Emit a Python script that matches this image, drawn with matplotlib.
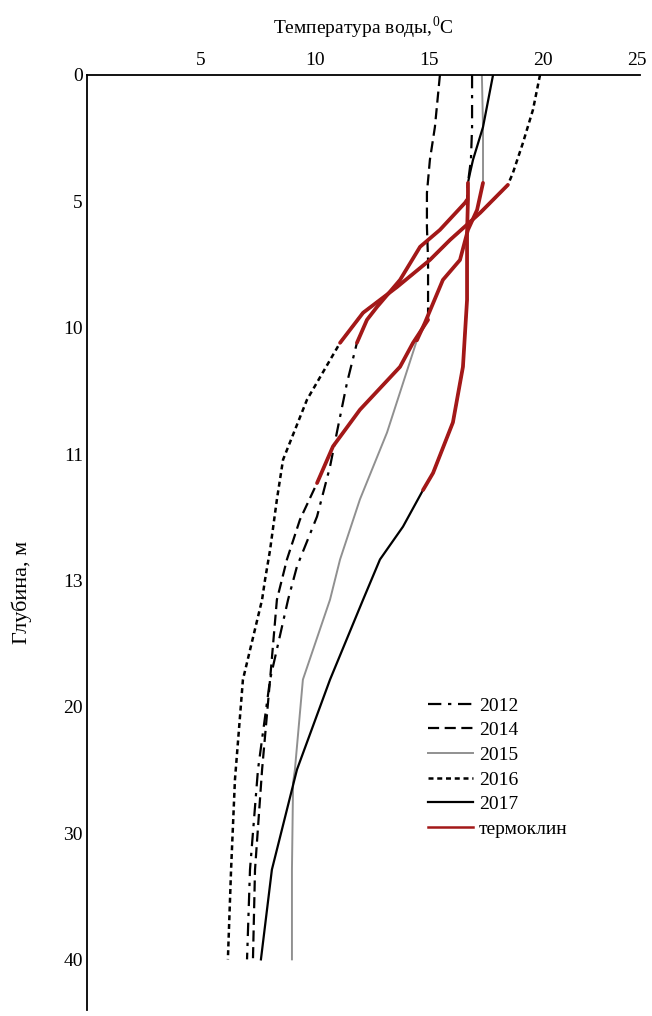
import numpy as np
import matplotlib.pyplot as plt
from matplotlib.lines import Line2D

plt.rcParams['font.family'] = ['Liberation Serif', 'DejaVu Serif']
plt.rcParams['mathtext.fontset'] = 'custom'
plt.rcParams['mathtext.rm'] = 'Liberation Serif'

# depth axis is drawn with equal spacing between these labels
depth_labels = [0, 5, 10, 11, 13, 20, 30, 40]
temp_labels = [5, 10, 15, 20, 25]

# profiles: temperature (C) vs depth (m)
t2012 = [16.89, 16.89, 16.84, 16.71, 16.67, 16.58, 15.48, 14.61, 13.73, 12.72, 12.28,
         11.84, 11.40, 10.96, 10.66, 10.09, 9.21, 8.82, 8.03, 7.50, 7.15, 7.02]
z2012 = [0, 2.06, 3.36, 4.27, 4.94, 5.06, 6.13, 6.80, 8.11, 9.18, 9.69,
         10.12, 10.44, 10.83, 11.20, 11.99, 12.78, 14.07, 18.5, 24.98, 32.9, 40]

t2014 = [15.48, 15.26, 15.04, 14.91, 14.91, 14.96, 14.96, 14.96, 14.30, 13.73, 11.97,
         10.79, 10.09, 9.34, 8.77, 8.33, 8.03, 7.68, 7.37, 7.28]
z2014 = [0, 2.06, 3.36, 4.67, 6.01, 7.32, 9.41, 9.69, 10.12, 10.31, 10.65,
         10.94, 11.46, 12.04, 12.67, 14.07, 18.5, 24.98, 32.9, 40]

t2015 = [17.32, 17.37, 17.37, 17.11, 16.71, 16.36, 15.61, 14.82, 14.47, 13.16, 11.97,
         11.10, 10.66, 9.47, 9.12, 9.04, 8.99, 8.99]
z2015 = [0, 2.06, 4.27, 5.34, 6.13, 7.32, 8.11, 9.81, 10.10, 10.83, 11.72,
         12.67, 14.07, 18.5, 24.98, 26.0, 32.9, 40]

t2016 = [19.87, 19.56, 19.12, 18.68, 18.46, 17.24, 15.92, 15.04, 13.60, 12.11, 11.10,
         9.65, 8.60, 8.33, 8.03, 7.81, 7.68, 6.84, 6.49, 6.32, 6.18]
z2016 = [0, 1.38, 2.69, 3.88, 4.35, 5.46, 6.53, 7.32, 8.39, 9.41, 10.12,
         10.57, 11.09, 11.72, 12.52, 12.99, 14.07, 18.5, 25.78, 32.9, 40]

t2017 = [17.81, 17.37, 16.93, 16.80, 16.71, 16.71, 16.67, 16.67, 16.67, 16.49, 16.05,
         15.18, 14.74, 13.86, 12.85, 12.11, 10.66, 9.21, 8.11, 7.63]
z2017 = [0, 2.06, 3.36, 3.88, 4.27, 4.94, 6.25, 7.32, 8.90, 10.31, 10.75,
         11.30, 11.57, 12.15, 12.67, 14.07, 18.5, 24.98, 32.9, 40]

# thermocline depth range for each year
thermo = {
    "2012": (4.94, 10.12),
    "2014": (9.69, 11.46),
    "2015": (4.27, 10.10),
    "2016": (4.35, 10.12),
    "2017": (4.27, 11.57),
}

ref_depth = depth_labels + [50]
ref_pos = list(range(len(ref_depth)))


def fwd(z):
    return np.interp(z, ref_depth, ref_pos)


def inv(p):
    return np.interp(p, ref_pos, ref_depth)


fig = plt.figure(figsize=(6.52, 10.16), dpi=100)
ax = fig.add_axes([0.1334, 0.006, 0.848, 0.9202])
ax.set_yscale('function', functions=(fwd, inv))

styles = {
    "2012": dict(color='black', lw=1.6, ls=(0, (6, 3, 1.5, 3))),
    "2014": dict(color='black', lw=1.6, ls=(0, (5, 2.5))),
    "2015": dict(color='#909090', lw=1.4, ls='-'),
    "2016": dict(color='black', lw=1.8, ls=(0, (2, 1.5))),
    "2017": dict(color='black', lw=1.6, ls='-'),
}
data = {
    "2012": (t2012, z2012),
    "2014": (t2014, z2014),
    "2015": (t2015, z2015),
    "2016": (t2016, z2016),
    "2017": (t2017, z2017),
}

red = '#a31818'
for year, (t, z) in data.items():
    ax.plot(t, z, label=year, **styles[year])

for year, (t, z) in data.items():
    t = np.array(t)
    z = np.array(z)
    lo, hi = thermo[year]
    m = (z >= lo) & (z <= hi)
    ax.plot(t[m], z[m], color=red, lw=2.7, solid_capstyle='round', zorder=3)

ax.set_xlim(0, 24.25)
ax.set_ylim(44, 0)

ax.xaxis.tick_top()
ax.xaxis.set_label_position('top')
ax.set_xticks([5, 10, 15, 20, 24.1])
ax.set_xticklabels([str(v) for v in temp_labels])
ax.set_yticks(depth_labels)
ax.set_yticklabels([str(v) for v in depth_labels])
ax.minorticks_off()
ax.tick_params(axis='x', length=0, pad=4, labelsize=14)
ax.tick_params(axis='y', length=0, pad=3, labelsize=14)

for s in ['right', 'bottom']:
    ax.spines[s].set_visible(False)
for s in ['left', 'top']:
    ax.spines[s].set_linewidth(1.3)

ax.set_xlabel("Температура воды,$^{0}$С", fontsize=14, labelpad=13)
ax.set_ylabel("Глубина, м", fontsize=16)
ax.yaxis.set_label_coords(-0.0995, 0.447)

handles, labels = ax.get_legend_handles_labels()
handles.append(Line2D([], [], color=red, lw=1.8))
labels.append("термоклин")
ax.legend(handles, labels, loc='upper left', bbox_to_anchor=(0.6, 0.345),
          frameon=False, fontsize=14, handlelength=2.3, handletextpad=0.3,
          labelspacing=0.36, borderpad=0)

fig.savefig("out.png", dpi=100)
